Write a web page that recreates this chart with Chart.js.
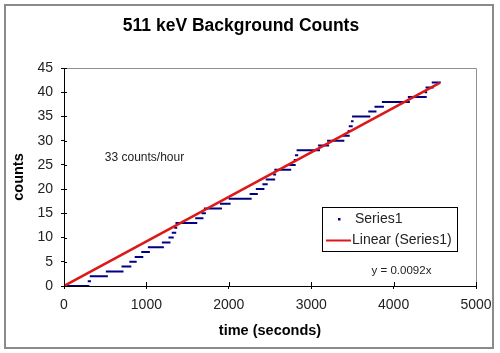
<!DOCTYPE html>
<html><head><meta charset="utf-8">
<script src="https://cdn.jsdelivr.net/npm/chart.js@4/dist/chart.umd.min.js"></script>
<style>html,body{margin:0;padding:0;background:#fff}</style>
</head><body>
<canvas id="c" width="500" height="353"></canvas>
<script>
// cumulative counts (level) and the time span (s) during which each level was held
const stepCounts = [0,1,2,3,4,5,6,7,8,9,10,11,12,13,14,15,16,17,18,19,20,21,22,23,24,25,26,27,28,29,30,31,32,33,34,35,36,37,38,39,40,41,42];
const stepStart  = [0,300,325,520,710,805,870,950,1030,1200,1280,1320,1350,1365,1605,1680,1710,1905,2010,2265,2340,2420,2460,2550,2565,2745,2800,2815,2835,3095,3205,3390,3455,3468,3495,3508,3705,3780,3870,4185,4388,4400,4475];
const stepEnd    = [295,315,520,710,805,870,950,1030,1200,1280,1320,1350,1362,1605,1680,1710,1905,2010,2265,2340,2420,2460,2550,2562,2745,2800,2810,2830,3095,3205,3390,3455,3462,3492,3502,3705,3780,3870,4185,4390,4395,4475,4560];
// linear trendline y = 0.0092x
const trendTime   = [0, 4560];
const trendCounts = [0, 41.95];
const xTickValues = [0,1000,2000,3000,4000,5000];
const yTickValues = [0,5,10,15,20,25,30,35,40,45];

const FONT = "'Liberation Sans', Arial, sans-serif";

const stepData = [];
for (let i = 0; i < stepCounts.length; i++) {
  stepData.push({x: stepStart[i], y: stepCounts[i]});
  stepData.push({x: stepEnd[i], y: stepCounts[i]});
  stepData.push({x: stepEnd[i], y: null});
}
const trendData = trendTime.map((t, i) => ({x: t, y: trendCounts[i]}));

const frame = {
  id: 'frame',
  beforeDraw(chart) {
    const ctx = chart.ctx;
    ctx.save();
    ctx.fillStyle = '#fff';
    ctx.fillRect(0, 0, chart.width, chart.height);
    ctx.strokeStyle = '#8a8a8a';
    ctx.lineWidth = 2;
    ctx.strokeRect(5, 5, 488, 343);
    ctx.restore();
  },
  afterDraw(chart) {
    const ctx = chart.ctx;
    const a = chart.chartArea;
    const xs = chart.scales.x, ys = chart.scales.y;
    ctx.save();
    // plot area top & right border
    ctx.strokeStyle = '#909090';
    ctx.lineWidth = 1;
    ctx.beginPath();
    ctx.moveTo(Math.round(a.left) + 0.5, Math.round(a.top) + 0.5);
    ctx.lineTo(Math.round(a.right) + 0.5, Math.round(a.top) + 0.5);
    ctx.lineTo(Math.round(a.right) + 0.5, Math.round(a.bottom));
    ctx.stroke();
    // inner halves of crossing tick marks
    ctx.strokeStyle = '#000';
    ctx.beginPath();
    xTickValues.forEach(v => {
      const px = Math.round(xs.getPixelForValue(v)) + 0.5;
      ctx.moveTo(px, a.bottom); ctx.lineTo(px, a.bottom - 4);
    });
    yTickValues.forEach(v => {
      const py = Math.round(ys.getPixelForValue(v)) + 0.5;
      ctx.moveTo(a.left, py); ctx.lineTo(a.left + 3, py);
    });
    ctx.stroke();
    // legend box
    const ds = chart.data.datasets;
    ctx.fillStyle = '#fff';
    ctx.fillRect(322, 207, 135, 44);
    ctx.strokeStyle = '#000';
    ctx.strokeRect(322.5, 207.5, 135, 44);
    ctx.fillStyle = '#000080';
    ctx.fillRect(338, 218, 2.5, 2.5);
    ctx.strokeStyle = '#dd1818';
    ctx.lineWidth = 2;
    ctx.beginPath(); ctx.moveTo(326, 240.5); ctx.lineTo(351, 240.5); ctx.stroke();
    ctx.fillStyle = '#222';
    ctx.font = '14px ' + FONT;
    ctx.textBaseline = 'middle';
    ctx.textAlign = 'left';
    ctx.fillText(ds[1].label, 355, 219);
    ctx.fillText(ds[0].label, 352, 240);
    // annotations
    ctx.textAlign = 'center';
    ctx.font = '12px ' + FONT;
    ctx.fillText('33 counts/hour', 144.5, 158);
    ctx.font = '11.5px ' + FONT;
    ctx.fillText('y = 0.0092x', 401.5, 271);
    ctx.restore();
  }
};

new Chart(document.getElementById('c'), {
  type: 'scatter',
  data: {
    datasets: [
      {
        label: 'Linear (Series1)',
        data: trendData,
        showLine: true,
        borderColor: '#dd1818',
        borderWidth: 2.5,
        pointRadius: 0,
        order: 0
      },
      {
        label: 'Series1',
        data: stepData,
        showLine: true,
        spanGaps: false,
        borderColor: '#000080',
        borderWidth: 2,
        borderCapStyle: 'square',
        pointRadius: 0,
        order: 1
      }
    ]
  },
  options: {
    responsive: false,
    animation: false,
    layout: {padding: {left: 6, right: 24, top: 0, bottom: 8}},
    plugins: {
      legend: {display: false},
      tooltip: {enabled: false},
      title: {
        display: true,
        text: '511 keV Background Counts',
        color: '#000',
        font: {family: FONT, size: 17.5, weight: 'bold'},
        padding: {top: 16, bottom: 31}
      }
    },
    scales: {
      x: {
        type: 'linear',
        min: 0, max: 5000,
        afterBuildTicks: s => { s.ticks = xTickValues.map(v => ({value: v})); },
        afterFit: s => { s.height = 59; },
        grid: {drawOnChartArea: false, color: '#000', tickLength: 3, tickColor: '#000'},
        border: {display: true, color: '#000', width: 1},
        ticks: {color: '#222', font: {family: FONT, size: 14}, padding: 8, maxRotation: 0,
                callback: v => String(v)},
        title: {display: true, text: 'time (seconds)', color: '#000',
                font: {family: FONT, size: 14.5, weight: 'bold'}, padding: {top: 0, bottom: 5}}
      },
      y: {
        type: 'linear',
        min: 0, max: 45,
        afterBuildTicks: s => { s.ticks = yTickValues.map(v => ({value: v})); },
        afterFit: s => { s.width = 58; },
        grid: {drawOnChartArea: false, color: '#000', tickLength: 3, tickColor: '#000'},
        border: {display: true, color: '#000', width: 1},
        ticks: {color: '#222', font: {family: FONT, size: 14}, padding: 8,
                callback: v => String(v)},
        title: {display: true, text: 'counts', color: '#000',
                font: {family: FONT, size: 14.5, weight: 'bold'}, padding: {top: 4, bottom: 0}}
      }
    }
  },
  plugins: [frame]
});
</script>
</body></html>
